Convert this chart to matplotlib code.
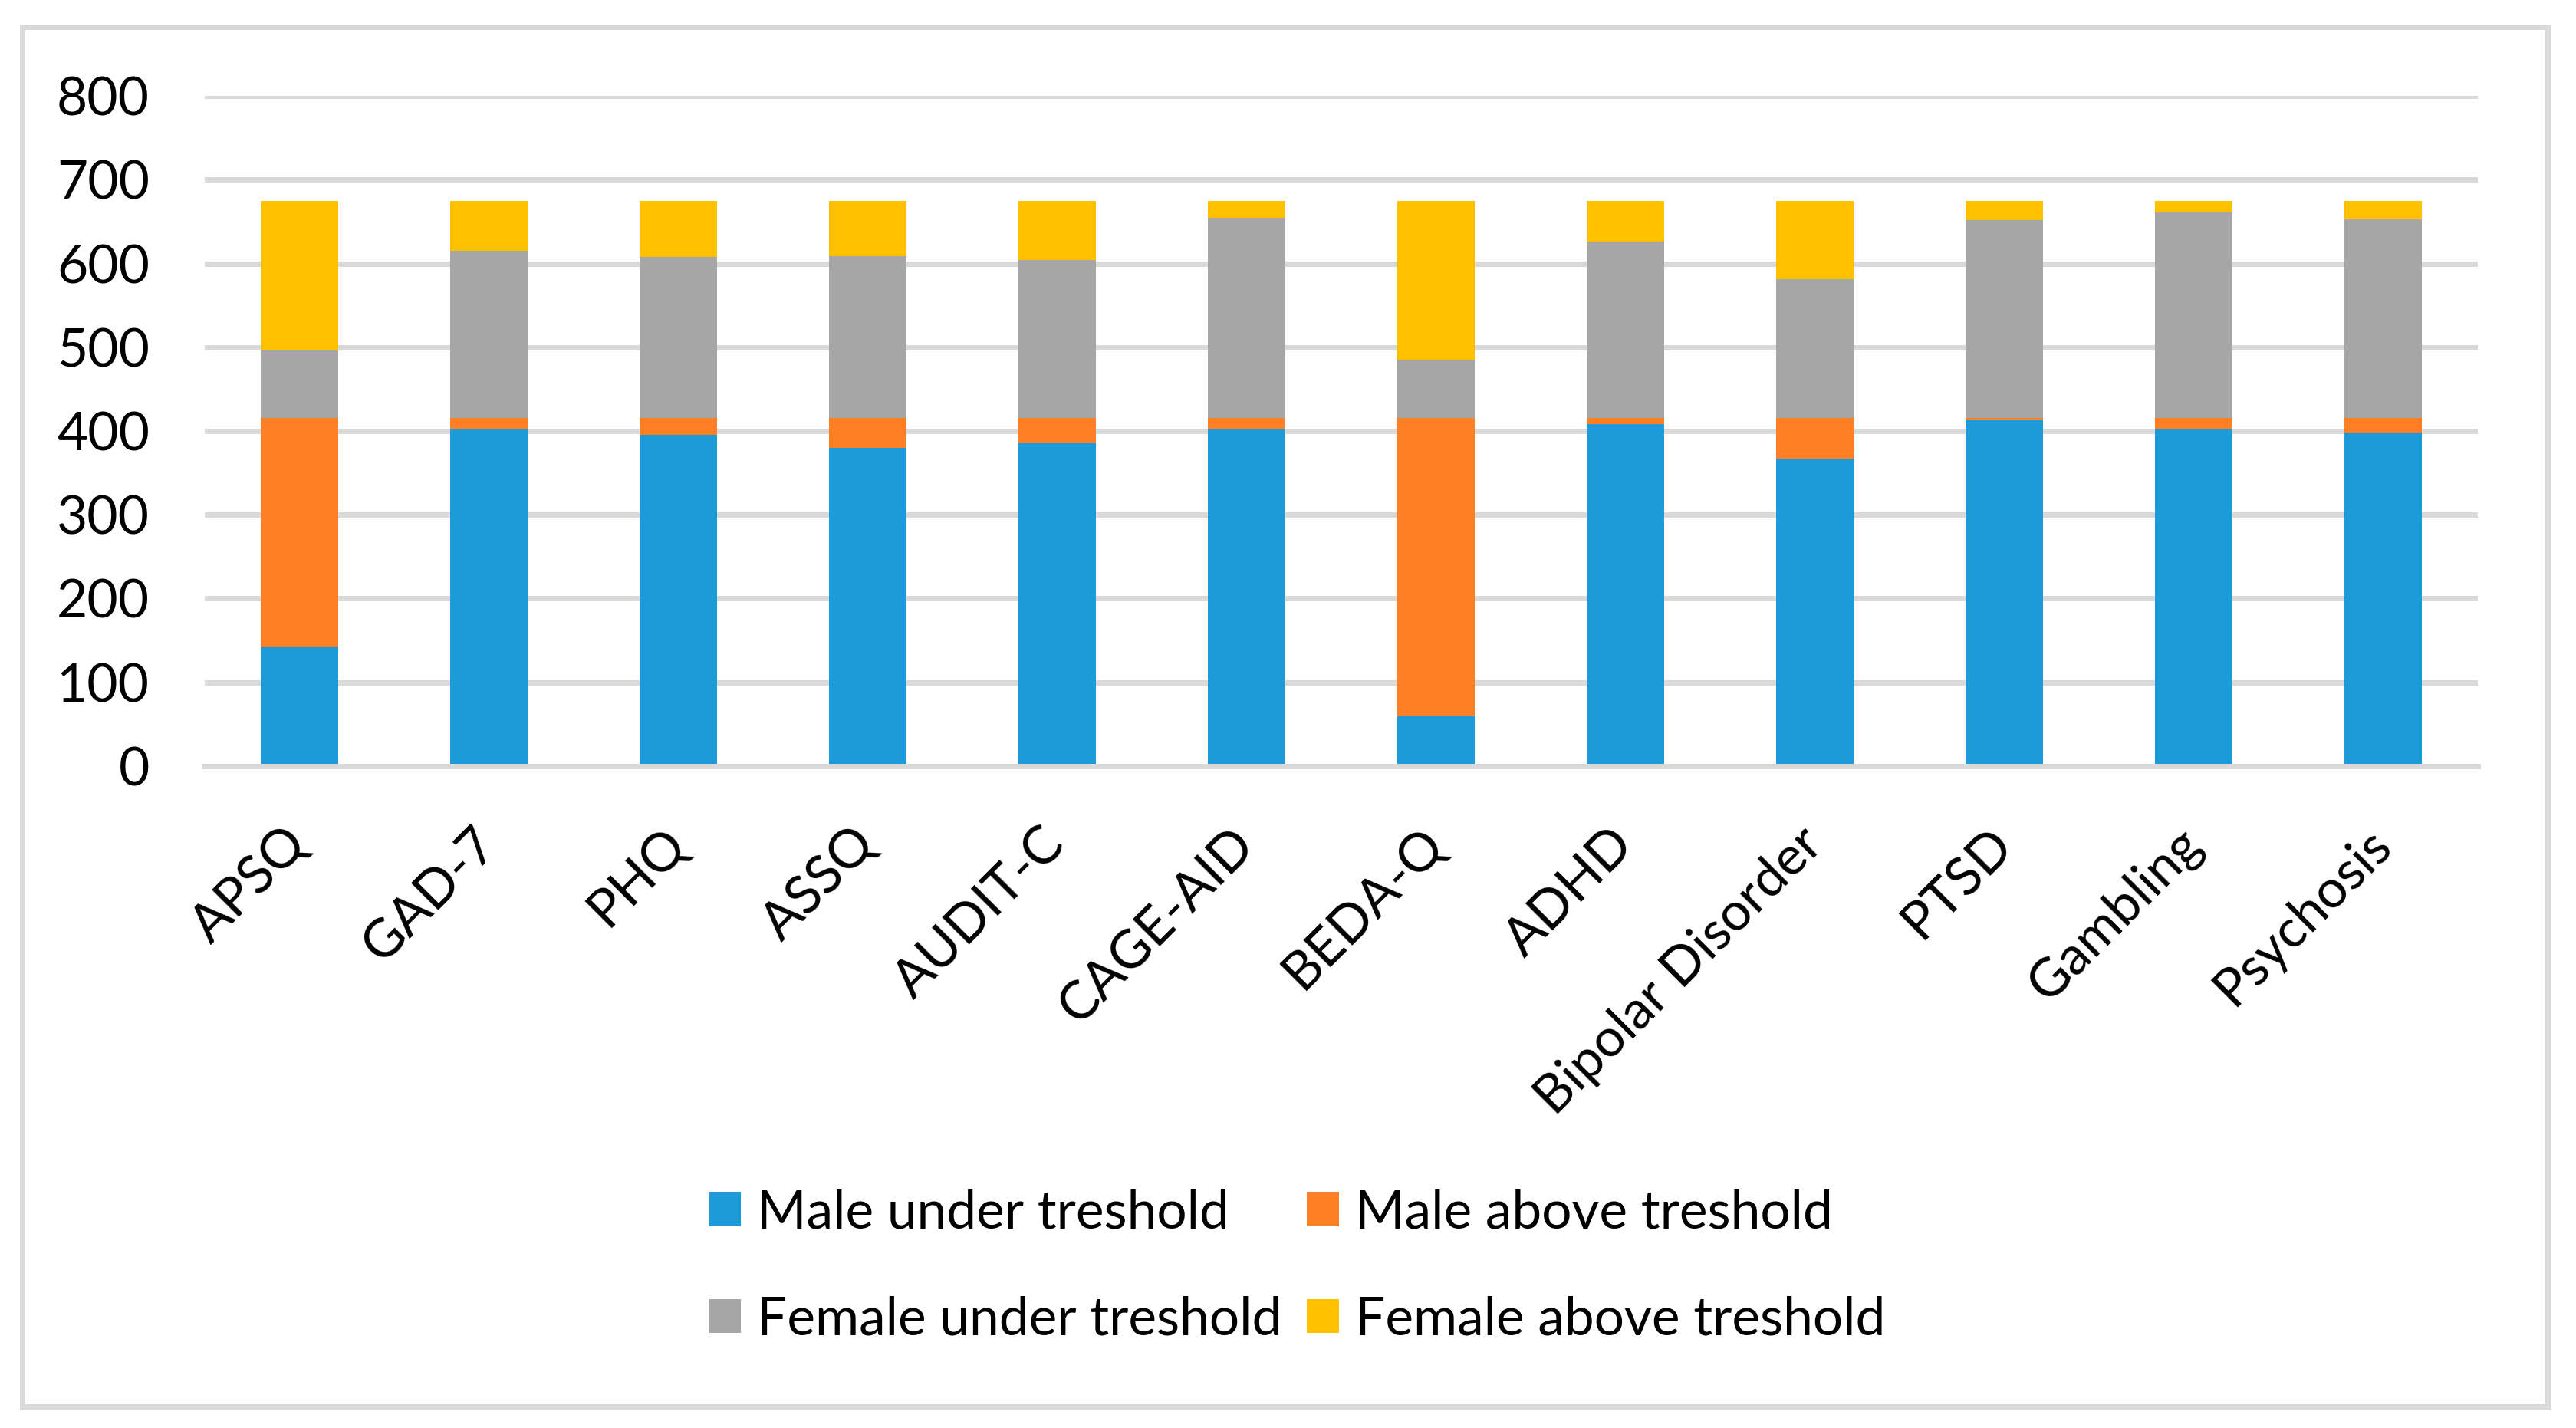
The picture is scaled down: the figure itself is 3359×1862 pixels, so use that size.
import numpy as np
import matplotlib
matplotlib.use("Agg")
import matplotlib.pyplot as plt
from matplotlib.patches import Rectangle

plt.rcParams['font.family'] = ['Lato', 'DejaVu Sans']

categories = ["APSQ", "GAD-7", "PHQ", "ASSQ", "AUDIT-C", "CAGE-AID", "BEDA-Q",
              "ADHD", "Bipolar Disorder", "PTSD", "Gambling", "Psychosis"]

male_under = [143, 402, 395, 380, 385, 402, 59, 408, 367, 413, 402, 398]
male_above = [273, 14, 21, 36, 31, 14, 357, 8, 49, 3, 14, 18]
female_under = [80, 199, 192, 193, 188, 239, 69, 210, 165, 236, 245, 237]
female_above = [179, 60, 67, 66, 71, 20, 190, 49, 94, 23, 14, 22]

series_names = ["Male under treshold", "Male above treshold",
                "Female under treshold", "Female above treshold"]
colors = ["#1D9BD8", "#FF7F27", "#A6A6A6", "#FFC000"]

W, H, DPI = 3359, 1862, 200
fig = plt.figure(figsize=(W / DPI, H / DPI), dpi=DPI)

# axes placed in pixel coordinates
x0, x1 = 267, 3231
y_top, y_zero = 125.3, 998.7
ax = fig.add_axes([x0 / W, 1 - y_zero / H, (x1 - x0) / W, (y_zero - y_top) / H])

grid_col = "#D9D9D9"
lw = 7 * 72 / DPI

x = np.arange(len(categories))
bottom = np.zeros(len(categories))
bars = []
for vals, name, col in zip([male_under, male_above, female_under, female_above], series_names, colors):
    b = ax.bar(x, vals, width=0.405, bottom=bottom, color=col, label=name, zorder=2)
    bars.append(b)
    bottom = bottom + np.asarray(vals)

ax.set_xlim(-0.5, len(categories) - 0.5)
ax.set_ylim(0, 800)
ax.set_yticks(np.arange(0, 801, 100))
for v in np.arange(100, 801, 100):
    ax.axhline(v, color=grid_col, lw=lw, zorder=1)
ax.axhline(0, color=grid_col, lw=lw, zorder=3, clip_on=False)

for s in ax.spines.values():
    s.set_visible(False)

fs = 25
ax.tick_params(axis="y", length=0, pad=26, labelsize=fs, colors="black")
ax.tick_params(axis="x", length=0, pad=33, labelsize=fs)
ax.set_xticks(x)
ax.set_xticklabels(categories, rotation=45, ha="right", va="center", rotation_mode="anchor")

# legend filled column by column, so order it to read row by row
order = [0, 2, 1, 3]
fig.legend(handles=[bars[i] for i in order], labels=[series_names[i] for i in order],
           ncol=2, frameon=False,
           loc="upper left", bbox_to_anchor=(924 / W, 1 - 1550 / H),
           fontsize=fs, handlelength=0.6, handleheight=0.6, handletextpad=0.3,
           columnspacing=0.48, labelspacing=1.1, borderpad=0, borderaxespad=0)

# outer chart border
fig.patches.append(Rectangle((29 / W, 1 - 1834 / H), (3322 - 29) / W, (1834 - 35) / H,
                             transform=fig.transFigure, fill=False, edgecolor=grid_col, lw=lw))

fig.savefig("out.png", dpi=DPI, facecolor="white")
